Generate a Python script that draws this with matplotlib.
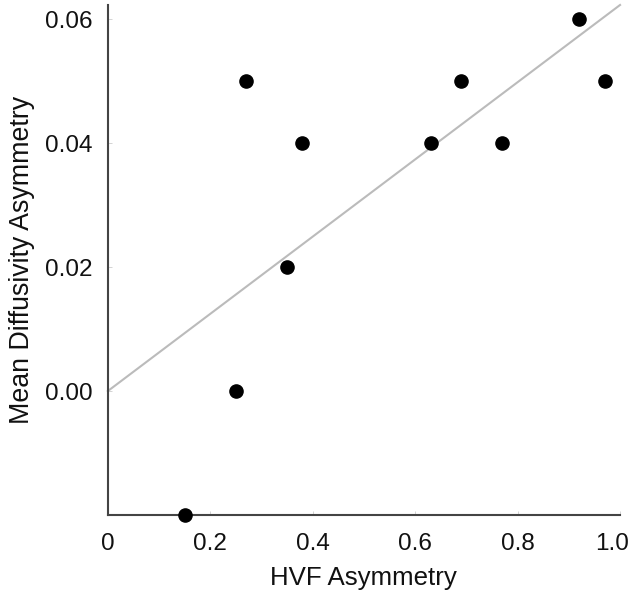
import matplotlib
matplotlib.use("Agg")
import matplotlib.pyplot as plt
import matplotlib.transforms as mtransforms
import numpy as np

plt.rcParams.update({
    "font.family": ["Liberation Sans", "DejaVu Sans"],
    "font.size": 17,
})

# data
hvf_asym = [0.15, 0.25, 0.27, 0.35, 0.38, 0.63, 0.69, 0.77, 0.92, 0.97]
md_asym = [-0.02, 0.00, 0.05, 0.02, 0.04, 0.04, 0.05, 0.04, 0.06, 0.05]
fit_x = [0.0, 1.0]
fit_y = [0.0, 0.0623]

x_ticks = [0, 0.2, 0.4, 0.6, 0.8, 1.0]
x_tick_labels = ["0", "0.2", "0.4", "0.6", "0.8", "1.0"]
y_ticks = [0.00, 0.02, 0.04, 0.06]
y_tick_labels = ["0.00", "0.02", "0.04", "0.06"]

fig = plt.figure(figsize=(6.34, 5.92), dpi=100)
ax = fig.add_axes([0.170, 0.130, 0.808, 0.8616])

ax.plot(fit_x, fit_y, color="#bbbbbb", lw=1.5, zorder=2, clip_on=False)
ax.scatter(hvf_asym, md_asym, s=90, color="black", zorder=3, clip_on=False)

ax.set_xlim(0, 1.0)
ax.set_ylim(-0.02, 0.0623)
ax.set_xticks(x_ticks)
ax.set_xticklabels(x_tick_labels)
ax.set_yticks(y_ticks)
ax.set_yticklabels(y_tick_labels)
ax.tick_params(direction="in", length=3, width=0.6, color="#cccccc",
               labelsize=17.5, labelcolor="#111111")
ax.tick_params(axis="x", pad=13)
ax.tick_params(axis="y", pad=11)

# last x label sits a little left so it stays inside the figure
last = ax.get_xticklabels()[-1]
last.set_transform(last.get_transform() +
                   mtransforms.ScaledTranslation(-0.08, 0, fig.dpi_scale_trans))

for side in ("top", "right"):
    ax.spines[side].set_visible(False)
for side in ("left", "bottom"):
    ax.spines[side].set_color("#444444")
    ax.spines[side].set_linewidth(1.5)

ax.set_xlabel("HVF Asymmetry", fontsize=18.6, labelpad=8, color="#111111")
ax.set_ylabel("Mean Diffusivity Asymmetry", fontsize=19.3, labelpad=7,
              color="#111111")

fig.savefig("out.png", dpi=100)
